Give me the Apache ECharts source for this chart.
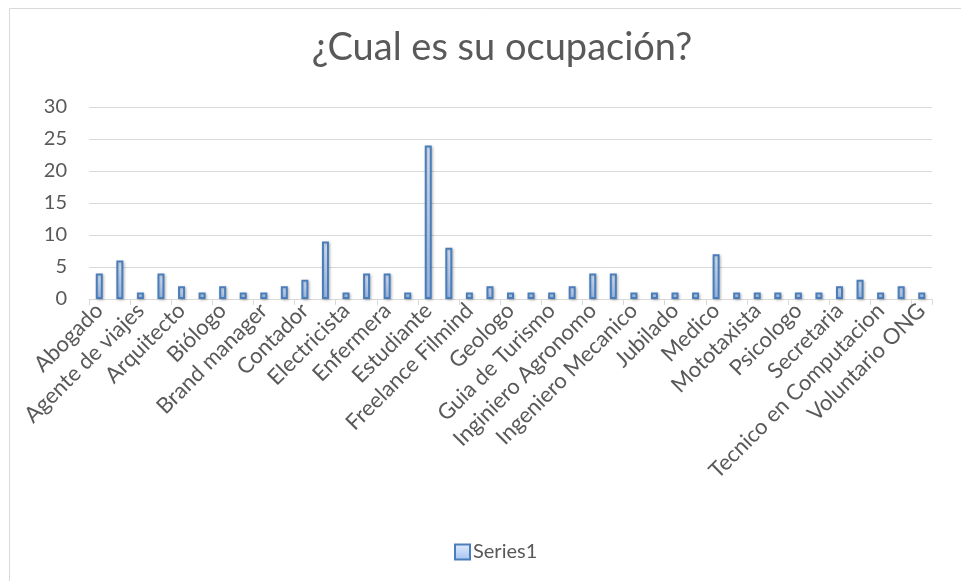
<!DOCTYPE html>
<html>
<head>
<meta charset="utf-8">
<script src="https://cdn.jsdelivr.net/npm/echarts@6/dist/echarts.min.js"></script>
<style>
  html, body { margin: 0; padding: 0; background: #fff; }
  #chart { width: 961px; height: 581px; }
</style>
</head>
<body>
<div id="chart"></div>
<script>
// ocupaciones (solo se ven las impares en el eje)
var ocupaciones = [
  'Abogado', 'Administrador', 'Agente de viajes', 'Ama de casa', 'Arquitecto',
  'Asistente', 'Biólogo', 'Bombero', 'Brand manager', 'Comerciante',
  'Contador', 'Diseñador', 'Electricista', 'Empresario', 'Enfermera',
  'Escritor', 'Estudiante', 'Fotografo', 'Freelance Filmind', 'Gerente',
  'Geologo', 'Guia', 'Guia de Turismo', 'Ingeniero', 'Inginiero Agronomo',
  'Ingeniero Civil', 'Ingeniero Mecanico', 'Ingeniero Quimico', 'Jubilado', 'Maestro',
  'Medico', 'Militar', 'Mototaxista', 'Periodista', 'Psicologo',
  'Recepcionista', 'Secretaria', 'Taxista', 'Tecnico en Computacion', 'Vendedor',
  'Voluntario ONG'
];
var series1 = [
  4, 6, 1, 4, 2, 1, 2, 1, 1, 2,
  3, 9, 1, 4, 4, 1, 24, 8, 1, 2,
  1, 1, 1, 2, 4, 4, 1, 1, 1, 1,
  7, 1, 1, 1, 1, 1, 2, 3, 1, 2,
  1
];
var yTicks = { min: 0, max: 30, step: 5 };

var font = 'Lato';
var gris = '#595959';

var myChart = echarts.init(document.getElementById('chart'));
var option = {
  animation: false,
  textStyle: { fontFamily: font },
  title: {
    text: '¿Cual es su ocupación?',
    left: 497,
    textAlign: 'center',
    top: 24,
    textStyle: { fontFamily: font, fontSize: 38, fontWeight: 'normal', color: gris }
  },
  graphic: [{
    type: 'rect',
    shape: { x: 9.5, y: 8.5, width: 1000, height: 1000 },
    style: { fill: 'none', stroke: '#d9d9d9', lineWidth: 1 },
    silent: true
  }],
  legend: {
    left: 449,
    top: 537,
    itemWidth: 15,
    itemHeight: 15,
    itemGap: 4,
    icon: 'rect',
    textStyle: { fontFamily: font, fontSize: 20, color: gris, padding: [0, 0, 0, -2] },
    data: ['Series1']
  },
  grid: { left: 89, right: 29, top: 107, bottom: 282 },
  xAxis: {
    type: 'category',
    data: ocupaciones,
    axisLine: { lineStyle: { color: '#d9d9d9', width: 1 } },
    axisTick: { show: true, length: 6, lineStyle: { color: '#d9d9d9' } },
    axisLabel: {
      interval: 1,
      rotate: 45,
      margin: 8,
      fontFamily: font,
      fontSize: 22,
      color: gris
    }
  },
  yAxis: {
    type: 'value',
    min: yTicks.min,
    max: yTicks.max,
    interval: yTicks.step,
    axisLine: { show: false },
    axisTick: { show: false },
    axisLabel: { fontFamily: font, fontSize: 20, color: gris, margin: 22 },
    splitLine: { lineStyle: { color: '#d9d9d9', width: 1 } }
  },
  series: [{
    name: 'Series1',
    type: 'bar',
    data: series1,
    barWidth: 7,
    itemStyle: {
      color: new echarts.graphic.LinearGradient(0, 0, 0, 1, [
        { offset: 0, color: '#e2ecfb' },
        { offset: 1, color: '#a3c1f2' }
      ]),
      borderColor: '#4a7ebb',
      borderWidth: 2,
      shadowBlur: 3,
      shadowColor: 'rgba(0,0,0,0.25)',
      shadowOffsetX: 1,
      shadowOffsetY: 1
    }
  }]
};
myChart.setOption(option);
</script>
</body>
</html>
